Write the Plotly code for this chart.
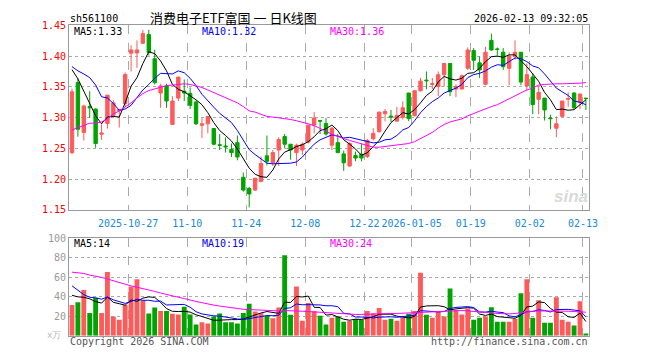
import plotly.graph_objects as go

# ---------------- data ----------------
dates = ["2025-10-13","2025-10-14","2025-10-15","2025-10-16","2025-10-17",
         "2025-10-20","2025-10-21","2025-10-22","2025-10-23","2025-10-24",
         "2025-10-27","2025-10-28","2025-10-29","2025-10-30","2025-10-31",
         "2025-11-03","2025-11-04","2025-11-05","2025-11-06","2025-11-07",
         "2025-11-10","2025-11-11","2025-11-12","2025-11-13","2025-11-14",
         "2025-11-17","2025-11-18","2025-11-19","2025-11-20","2025-11-21",
         "2025-11-24","2025-11-25","2025-11-26","2025-11-27","2025-11-28",
         "2025-12-01","2025-12-02","2025-12-03","2025-12-04","2025-12-05",
         "2025-12-08","2025-12-09","2025-12-10","2025-12-11","2025-12-12",
         "2025-12-15","2025-12-16","2025-12-17","2025-12-18","2025-12-19",
         "2025-12-22","2025-12-23","2025-12-24","2025-12-25","2025-12-26",
         "2025-12-29","2025-12-30","2025-12-31",
         "2026-01-05","2026-01-06","2026-01-07","2026-01-08","2026-01-09",
         "2026-01-12","2026-01-13","2026-01-14","2026-01-15","2026-01-16",
         "2026-01-19","2026-01-20","2026-01-21","2026-01-22","2026-01-23",
         "2026-01-26","2026-01-27","2026-01-28","2026-01-29","2026-01-30",
         "2026-02-02","2026-02-03","2026-02-04","2026-02-05","2026-02-06",
         "2026-02-09","2026-02-10","2026-02-11","2026-02-12","2026-02-13"]

open_ = [1.243,1.357,1.276,1.318,1.314,1.273,1.2906,1.3036,1.311,1.323,
         1.4047,1.405,1.4208,1.435,1.3958,1.340,1.3516,1.289,1.3318,1.343,
         1.3396,1.3255,1.2875,1.290,1.2823,1.256,1.254,1.2484,1.2594,1.2031,
         1.1849,1.1823,1.1964,1.238,1.2266,1.2474,1.2693,1.2568,1.2432,1.2474,
         1.2604,1.288,1.2953,1.2906,1.2552,1.2594,1.2411,1.2214,1.2385,1.2406,
         1.237,1.2656,1.2771,1.3063,1.3026,1.2943,1.3005,1.3401,1.3031,1.3438,
         1.361,1.354,1.3505,1.3698,1.388,1.3464,1.3464,1.3802,1.4089,1.389,
         1.3542,1.4255,1.4115,1.4063,1.3802,1.3995,1.4063,1.3516,1.3661,1.3297,
         1.3318,1.2995,1.2828,1.3021,1.330,1.3401,1.3245,1.3318]
high = [1.347,1.364,1.321,1.343,1.315,1.289,1.337,1.328,1.314,1.3735,
        1.4177,1.4255,1.4427,1.4427,1.4104,1.355,1.355,1.335,1.366,1.362,
        1.349,1.328,1.2995,1.302,1.283,1.2735,1.268,1.258,1.271,1.211,
        1.1875,1.2016,1.237,1.271,1.2474,1.268,1.2735,1.2568,1.2578,1.26,
        1.288,1.309,1.2953,1.2995,1.285,1.2734,1.2464,1.26,1.2448,1.2578,
        1.2656,1.2828,1.31,1.314,1.3125,1.3177,1.3266,1.3401,1.3437,1.3646,
        1.375,1.3646,1.375,1.389,1.388,1.3542,1.37,1.414,1.413,1.3995,
        1.4151,1.4365,1.414,1.413,1.4063,1.4255,1.4063,1.388,1.3724,1.3516,
        1.3318,1.3047,1.3021,1.3271,1.3411,1.3411,1.3385,1.3318]
low = [1.241,1.269,1.263,1.2995,1.251,1.264,1.2823,1.300,1.284,1.319,
       1.375,1.381,1.420,1.401,1.354,1.316,1.316,1.289,1.327,1.327,
       1.314,1.288,1.267,1.2745,1.255,1.2474,1.2432,1.236,1.2307,1.1797,
       1.1542,1.181,1.195,1.2224,1.2214,1.2214,1.25,1.2318,1.2214,1.2396,
       1.2578,1.2745,1.2734,1.2708,1.2474,1.242,1.2135,1.2203,1.2292,1.2292,
       1.2344,1.263,1.276,1.294,1.2932,1.2943,1.2969,1.2943,1.302,1.3422,
       1.346,1.3464,1.335,1.3505,1.335,1.3333,1.3464,1.3776,1.3776,1.3646,
       1.3526,1.4089,1.401,1.3776,1.3526,1.3943,1.3526,1.3438,1.3057,1.3057,
       1.2953,1.2813,1.2682,1.301,1.3177,1.3141,1.3141,1.3125]
close = [1.342,1.281,1.319,1.316,1.258,1.275,1.3365,1.324,1.313,1.370,
         1.410,1.410,1.4365,1.406,1.3568,1.3516,1.327,1.327,1.366,1.340,
         1.320,1.290,1.290,1.302,1.2568,1.255,1.2526,1.2432,1.236,1.1823,
         1.176,1.2016,1.2255,1.229,1.2432,1.2646,1.2568,1.2474,1.2552,1.2568,
         1.288,1.2995,1.2943,1.2734,1.2828,1.2432,1.2266,1.2578,1.2344,1.2344,
         1.263,1.2745,1.3089,1.31,1.301,1.3036,1.3161,1.2984,1.3437,1.3594,
         1.36,1.3555,1.3698,1.388,1.3422,1.3505,1.3682,1.4099,1.3932,1.3776,
         1.4063,1.4099,1.411,1.3828,1.3995,1.4063,1.3578,1.3698,1.3214,1.3411,
         1.3125,1.2984,1.2901,1.3271,1.331,1.3161,1.3385,1.331]

ma5 = [1.378,1.363,1.343,1.323,1.303,1.290,1.301,1.302,1.301,1.324,
       1.351,1.365,1.388,1.407,1.404,1.392,1.376,1.354,1.346,1.342,
       1.336,1.329,1.321,1.308,1.292,1.279,1.271,1.262,1.249,1.234,
       1.218,1.208,1.204,1.203,1.215,1.233,1.244,1.248,1.253,1.256,
       1.261,1.269,1.279,1.282,1.288,1.279,1.264,1.257,1.249,1.239,
       1.243,1.253,1.263,1.278,1.292,1.300,1.308,1.306,1.313,1.324,
       1.336,1.343,1.358,1.367,1.363,1.361,1.364,1.372,1.373,1.380,
       1.391,1.399,1.400,1.398,1.402,1.402,1.392,1.383,1.371,1.359,
       1.341,1.329,1.313,1.314,1.312,1.313,1.321,1.329]
ma10 = [1.383,1.376,1.371,1.365,1.353,1.334,1.332,1.323,1.312,1.314,
        1.320,1.333,1.345,1.354,1.364,1.372,1.371,1.371,1.376,1.373,
        1.364,1.352,1.338,1.327,1.317,1.307,1.300,1.292,1.279,1.263,
        1.248,1.240,1.233,1.226,1.225,1.225,1.226,1.226,1.228,1.236,
        1.247,1.257,1.264,1.268,1.272,1.270,1.267,1.268,1.266,1.264,
        1.261,1.259,1.260,1.264,1.265,1.271,1.280,1.284,1.295,1.308,
        1.318,1.326,1.332,1.340,1.344,1.348,1.354,1.365,1.370,1.372,
        1.376,1.382,1.386,1.385,1.391,1.397,1.396,1.391,1.384,1.381,
        1.371,1.360,1.348,1.342,1.336,1.327,1.325,1.321]
ma30 = [1.280,1.284,1.288,1.291,1.291,1.293,1.298,1.306,1.311,1.317,
        1.324,1.332,1.339,1.344,1.347,1.350,1.352,1.353,1.354,1.355,
        1.354,1.352,1.349,1.345,1.341,1.337,1.333,1.328,1.324,1.318,
        1.311,1.309,1.305,1.302,1.301,1.300,1.298,1.297,1.295,1.293,
        1.290,1.287,1.283,1.278,1.273,1.269,1.266,1.263,1.260,1.257,
        1.254,1.252,1.252,1.253,1.254,1.255,1.256,1.258,1.261,1.266,
        1.270,1.276,1.283,1.289,1.293,1.295,1.298,1.303,1.307,1.311,
        1.314,1.318,1.321,1.326,1.330,1.335,1.340,1.345,1.348,1.353,
        1.354,1.355,1.355,1.355,1.355,1.356,1.356,1.357]

volume = [31.3,34.3,46.7,23.3,38.7,23.3,65.3,19.7,16.3,31.3,
          50.3,57.7,36.3,22.7,28.7,25.3,25.3,22.3,21.7,29.7,
          21.7,11.3,13.7,12.3,19.7,22.7,13.7,13.7,12.3,23.3,
          32.7,24.7,23.0,20.0,17.7,28.7,82.3,21.3,50.3,15.3,
          33.3,25.0,20.3,11.3,18.3,19.7,14.3,15.3,17.0,16.0,
          25.3,23.0,28.3,16.3,17.3,15.3,18.7,22.3,25.3,64.3,
          21.3,18.3,24.3,19.7,48.3,26.3,21.7,27.7,16.3,18.3,
          19.7,29.0,14.3,14.3,14.3,17.3,43.3,57.7,18.3,36.3,
          13.3,13.3,39.3,16.3,14.3,10.3,35.3,2.3]
vma5 = [41.3,39.7,39.3,37.7,34.9,33.3,39.5,34.1,32.7,31.2,
        36.6,35.1,38.4,39.7,39.1,34.1,27.7,24.9,24.7,24.9,
        24.1,21.3,19.6,17.7,15.7,15.9,16.4,16.4,16.4,17.1,
        19.1,21.3,23.2,24.7,23.6,22.8,34.3,34.0,40.1,39.6,
        40.5,29.0,28.8,21.0,21.6,18.9,16.8,15.8,16.9,16.5,
        17.6,19.3,21.9,21.8,22.0,20.0,19.2,18.0,19.8,29.2,
        30.4,30.3,30.7,29.6,26.4,27.4,28.1,28.7,28.1,22.1,
        20.7,22.2,19.5,19.1,18.3,17.8,20.7,29.4,30.2,34.6,
        33.8,27.8,24.1,23.7,19.3,18.7,23.1,14.4]
vma10 = [51.0,46.3,42.0,39.3,38.7,37.3,39.6,36.7,35.2,33.0,
         34.9,37.3,36.2,36.2,35.2,35.4,31.4,31.6,32.2,32.0,
         29.1,24.5,22.2,21.2,20.3,20.0,18.9,18.0,17.1,16.4,
         17.5,18.9,19.8,20.6,20.4,21.0,27.8,28.6,32.4,31.6,
         31.7,31.7,31.4,30.6,30.6,29.7,22.9,22.3,19.0,19.1,
         18.3,18.1,18.9,19.4,19.3,18.8,19.3,20.0,20.8,25.6,
         25.2,24.7,24.3,24.7,27.8,28.9,29.2,29.7,28.8,24.2,
         24.1,25.1,24.1,23.6,20.2,19.3,21.5,24.5,24.7,26.5,
         25.8,24.2,26.7,26.9,26.9,26.2,25.4,19.3]
vma30 = [65.0,64.3,63.7,62.0,61.0,59.7,58.0,56.0,54.3,52.7,
         51.0,49.7,48.3,47.0,45.3,43.7,42.0,40.3,39.3,38.0,
         36.3,35.0,33.7,32.3,31.3,30.3,29.3,28.3,27.7,27.0,
         26.7,26.3,26.0,25.7,25.3,25.3,25.7,25.7,25.7,25.0,
         24.7,24.3,24.0,23.0,22.7,22.3,22.0,22.0,21.7,21.7,
         22.0,22.0,22.3,22.3,22.7,22.7,23.0,23.0,23.3,24.0,
         24.3,24.3,24.3,24.7,25.3,25.7,25.7,25.3,25.0,24.3,
         24.0,23.3,22.7,22.3,22.3,22.7,23.7,24.7,25.0,25.3,
         25.3,25.3,25.7,25.3,25.0,24.7,24.3,24.0]

tick_dates = ["2025-10-27","2025-11-10","2025-11-24","2025-12-08","2025-12-22",
              "2026-01-05","2026-01-19","2026-02-02","2026-02-13"]
tick_text = ["2025-10-27","11-10","11-24","12-08","12-22",
             "2026-01-05","01-19","02-02","02-13"]
price_ticks = [1.15, 1.20, 1.25, 1.30, 1.35, 1.40, 1.45]
vol_ticks = [20, 40, 60, 80, 100]

# ---------------- figure ----------------
W, H = 660, 360
UP, DOWN = "#ff5a5a", "#00a400"
MONO = "DejaVu Sans Mono"
idx = list(range(len(dates)))
tickpos = [dates.index(d) - 0.5 for d in tick_dates]

def px(x):
    return x / W

def py(y):
    return 1 - y / H

fig = go.Figure()
fig.add_trace(go.Candlestick(
    x=idx, open=open_, high=high, low=low, close=close,
    increasing=dict(line=dict(color=UP, width=1), fillcolor=UP),
    decreasing=dict(line=dict(color=DOWN, width=1), fillcolor=DOWN),
    whiskerwidth=0, xaxis="x", yaxis="y", showlegend=False, hoverinfo="skip"))
for vals, col in [(ma5, "#000000"), (ma10, "#0000ff"), (ma30, "#ff00ff")]:
    fig.add_trace(go.Scatter(x=idx, y=vals, mode="lines",
                             line=dict(color=col, width=1),
                             xaxis="x", yaxis="y", showlegend=False, hoverinfo="skip"))

vcolors = [UP if c >= o else DOWN for o, c in zip(open_, close)]
fig.add_trace(go.Bar(x=idx, y=volume, marker=dict(color=vcolors, line=dict(width=0)),
                     width=0.82, xaxis="x2", yaxis="y2", showlegend=False, hoverinfo="skip"))
for vals, col in [(vma5, "#000000"), (vma10, "#0000ff"), (vma30, "#ff00ff")]:
    fig.add_trace(go.Scatter(x=idx, y=vals, mode="lines",
                             line=dict(color=col, width=1),
                             xaxis="x2", yaxis="y2", showlegend=False, hoverinfo="skip"))

xdom = [px(70), px(597)]
xr = [-0.5, len(dates) - 0.5]
common_x = dict(domain=xdom, range=xr, showline=True, mirror=True, linecolor="#999999",
                linewidth=1, showgrid=True, gridcolor="#aaaaaa", griddash="dash",
                gridwidth=1, zeroline=False, tickmode="array", tickvals=tickpos,
                fixedrange=True)
common_y = dict(showline=True, mirror=True, linecolor="#999999", linewidth=1,
                showgrid=True, gridcolor="#aaaaaa", griddash="dot", gridwidth=1,
                zeroline=False, ticks="", fixedrange=True)

fig.update_layout(
    width=W, height=H, margin=dict(l=0, r=0, t=0, b=0),
    paper_bgcolor="white", plot_bgcolor="white",
    boxgap=0.18,
    xaxis=dict(**common_x, anchor="y", ticktext=tick_text, showticklabels=True,
               ticks="outside", ticklen=4, tickcolor="rgba(0,0,0,0)",
               tickfont=dict(family=MONO, size=10, color="#1a8ad4"),
               rangeslider=dict(visible=False)),
    yaxis=dict(**common_y, domain=[py(211), py(20)], range=[1.15, 1.45],
               tickvals=price_ticks, ticktext=[f"{v:.2f}" for v in price_ticks],
               tickfont=dict(family=MONO, size=10, color="#ff0000")),
    xaxis2=dict(**common_x, anchor="y2", showticklabels=False, ticks=""),
    yaxis2=dict(**common_y, domain=[py(341), py(240)], range=[0, 100],
                tickvals=vol_ticks, ticktext=[str(v) for v in vol_ticks],
                tickfont=dict(family=MONO, size=10, color="#999999")),
    bargap=0.15,
)

def text(s, x, y, color="#000000", size=10, anchor="left", family=MONO, **kw):
    fig.add_annotation(text=s, x=px(x), y=py(y), xref="paper", yref="paper",
                       xanchor=anchor, yanchor="middle", showarrow=False,
                       font=dict(family=family, size=size, color=color), **kw)

text("sh561100", 69, 13)
text("消费电子ETF富国 一 日K线图", 237, 12, size=13, anchor="center",
     family="Noto Sans CJK SC")
text("2026-02-13 09:32:05", 598, 13, anchor="right")
text(f"MA5:{ma5[-1]:.2f}", 73, 26)
text(f"MA10:{ma10[-1]:.2f}", 203, 26, color="#0000ff")
text(f"MA30:{ma30[-1]:.2f}", 333, 26, color="#ff00ff")
text(f"MA5:{vma5[-1]:.0f}", 73, 246)
text(f"MA10:{vma10[-1]:.0f}", 203, 246, color="#0000ff")
text(f"MA30:{vma30[-1]:.0f}", 333, 246, color="#ff00ff")
text("Copyright 2026 SINA.COM", 69, 347, color="#555555")
text("http://finance.sina.com.cn", 598, 347, color="#555555", anchor="right")
text("x万", 64, 340, color="#bbbbbb", size=9, anchor="right")
text("<b><i>sina</i></b>", 598, 197, color="#d9d9d9", size=17, anchor="right",
     family="Liberation Sans")

fig.write_html("out.html", config={"displayModeBar": False})
